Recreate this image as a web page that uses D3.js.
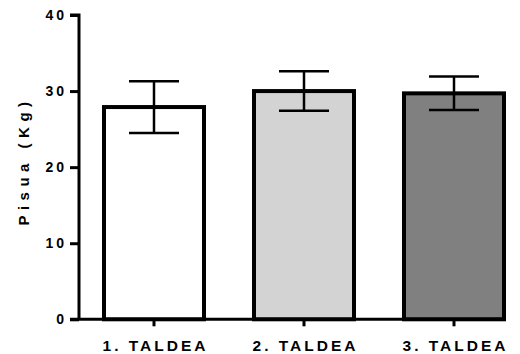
<!DOCTYPE html>
<html>
<head>
<meta charset="utf-8">
<script src="https://cdn.jsdelivr.net/npm/d3@7"></script>
<style>
  html, body { margin: 0; padding: 0; background: #fff; }
  svg text { font-family: "Liberation Sans", Arial, sans-serif; font-weight: bold; fill: #000; }
</style>
</head>
<body>
<svg id="chart" width="520" height="354"></svg>
<script>
// Group means with their error (SEM) in kg
const groups = ["1. TALDEA", "2. TALDEA", "3. TALDEA"];
const means = [27.9, 30.0, 29.7];
const errors = [3.4, 2.6, 2.2];
const fills = ["#ffffff", "#d3d3d3", "#808080"];
const yTicks = [0, 10, 20, 30, 40];
const yTitle = "Pisua (Kg)";

const svg = d3.select("#chart");
const x0 = 79, x1 = 529, yTop = 15, yBottom = 319.3;

const x = d3.scaleBand().domain(groups).range([x0, x1]).padding(0);
const y = d3.scaleLinear().domain([0, 40]).range([yBottom, yTop]);
const barW = x.bandwidth() * 2 / 3;
const capW = barW / 2;

// bars
svg.append("g").selectAll("rect").data(groups).join("rect")
  .attr("x", d => x(d) + (x.bandwidth() - barW) / 2)
  .attr("y", (d, i) => y(means[i]))
  .attr("width", barW)
  .attr("height", (d, i) => y(0) - y(means[i]))
  .attr("fill", (d, i) => fills[i])
  .attr("stroke", "#000")
  .attr("stroke-width", 4);

// error bars
const eb = svg.append("g").attr("stroke", "#000").attr("stroke-width", 2.5);
groups.forEach((g, i) => {
  const cx = x(g) + x.bandwidth() / 2;
  const lo = y(means[i] - errors[i]), hi = y(means[i] + errors[i]);
  eb.append("line").attr("x1", cx).attr("x2", cx).attr("y1", lo).attr("y2", hi);
  eb.append("line").attr("x1", cx - capW / 2).attr("x2", cx + capW / 2).attr("y1", lo).attr("y2", lo);
  eb.append("line").attr("x1", cx - capW / 2).attr("x2", cx + capW / 2).attr("y1", hi).attr("y2", hi);
});

// y axis
const yAxis = svg.append("g").attr("transform", `translate(${x0},0)`)
  .call(d3.axisLeft(y).tickValues(yTicks).tickSize(9).tickPadding(3));
yAxis.select(".domain").attr("stroke-width", 3).attr("d", `M-9,${yTop}H0V${yBottom}`);
yAxis.selectAll(".tick line").attr("stroke-width", 3);
yAxis.selectAll(".tick text")
  .style("font-size", "14px").style("letter-spacing", "3px");

// x axis
const xAxis = svg.append("g").attr("transform", `translate(0,${yBottom})`)
  .call(d3.axisBottom(x).tickSize(7).tickPadding(13.5));
xAxis.select(".domain").attr("stroke-width", 3).attr("d", `M${x0 - 9},0H506`);
xAxis.selectAll(".tick line").attr("stroke-width", 3);
xAxis.selectAll(".tick text")
  .style("font-size", "15.5px").style("letter-spacing", "3px")
  .attr("dx", "1.5");

// y title
svg.append("text")
  .attr("transform", `translate(28.5,161) rotate(-90)`)
  .attr("text-anchor", "middle")
  .style("font-size", "15px")
  .style("letter-spacing", "5.5px")
  .text(yTitle);
</script>
</body>
</html>
